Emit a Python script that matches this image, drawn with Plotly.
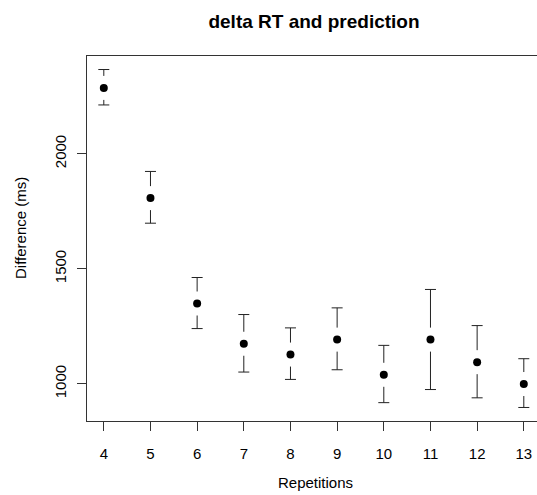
import plotly.graph_objects as go

# Mean reaction-time difference per repetition count, with CI bounds (ms)
repetitions = [4, 5, 6, 7, 8, 9, 10, 11, 12, 13]
mean_diff = [2286, 1807, 1349, 1174, 1127, 1192, 1039, 1192, 1094, 999]
ci_upper = [2366, 1923, 1462, 1301, 1243, 1330, 1167, 1410, 1253, 1109]
ci_lower = [2212, 1698, 1240, 1051, 1019, 1061, 918, 975, 939, 897]
y_ticks = [1000, 1500, 2000]

W, H = 537, 495
L, R, T, B = 87, 0, 56, 74
plot_w, plot_h = W - L - R, H - T - B

# R-style 4% padding on the y range
lo, hi = min(ci_lower), max(ci_upper)
pad = 0.04 * (hi - lo)
y_range = [lo - pad, hi + pad]
# x range: 4% padding on the left, plot clipped at the right page edge
xpad = 0.04 * (max(repetitions) - min(repetitions))
x_per_px = (max(repetitions) + xpad - (min(repetitions) - xpad)) / 453.6
x_range = [min(repetitions) - xpad, min(repetitions) - xpad + plot_w * x_per_px]

y_per_px = (y_range[1] - y_range[0]) / plot_h
gap = 12 * y_per_px          # gap between point and whisker
cap = 5.5 * x_per_px         # half width of whisker caps

# whiskers (vertical segments leaving a gap around each point) and caps
wx, wy = [], []
for x, m, u, l in zip(repetitions, mean_diff, ci_upper, ci_lower):
    if u - m > gap:
        wx += [x, x, None]
        wy += [m + gap, u, None]
    if m - l > gap:
        wx += [x, x, None]
        wy += [m - gap, l, None]
    wx += [x - cap, x + cap, None, x - cap, x + cap, None]
    wy += [u, u, None, l, l, None]

fig = go.Figure()
fig.add_trace(go.Scatter(x=wx, y=wy, mode="lines",
                         line=dict(color="#222222", width=1),
                         hoverinfo="skip", showlegend=False))
fig.add_trace(go.Scatter(x=repetitions, y=mean_diff, mode="markers",
                         marker=dict(color="black", size=8),
                         showlegend=False))

font = "Liberation Sans, Arial, sans-serif"
fig.update_layout(
    width=W, height=H,
    margin=dict(l=L, r=R, t=T, b=B, pad=0),
    paper_bgcolor="white", plot_bgcolor="white",
    font=dict(family=font, color="black"),
    title=dict(text="<b>delta RT and prediction</b>", x=(314) / W, xanchor="center",
               y=1 - 21 / H, yanchor="middle", yref="container",
               font=dict(size=19, family=font, color="black")),
    xaxis=dict(range=x_range, tickvals=repetitions, ticks="outside", ticklen=9,
               tickcolor="#333333", tickwidth=1, showgrid=False, zeroline=False,
               showline=True, linecolor="#333333", linewidth=1, mirror=True,
               ticklabelstandoff=10,
               tickfont=dict(size=15, family=font, color="black")),
    yaxis=dict(range=y_range, tickvals=y_ticks, ticks="outside", ticklen=9,
               tickcolor="#333333", tickwidth=1, showgrid=False, zeroline=False,
               showline=True, linecolor="#333333", linewidth=1, mirror=False,
               tickangle=-90, ticklabelstandoff=5,
               tickfont=dict(size=15, family=font, color="black")),
    annotations=[
        dict(text="Repetitions", xref="paper", yref="paper",
             x=(315 - L) / plot_w, y=(H - B - 482) / plot_h,
             xanchor="center", yanchor="middle", showarrow=False,
             font=dict(size=15, family=font, color="black")),
        dict(text="Difference (ms)", xref="paper", yref="paper",
             x=(21 - L) / plot_w, y=(H - B - 228) / plot_h, textangle=-90,
             xanchor="center", yanchor="middle", showarrow=False,
             font=dict(size=15, family=font, color="black")),
    ],
)

fig.write_html("out.html")
